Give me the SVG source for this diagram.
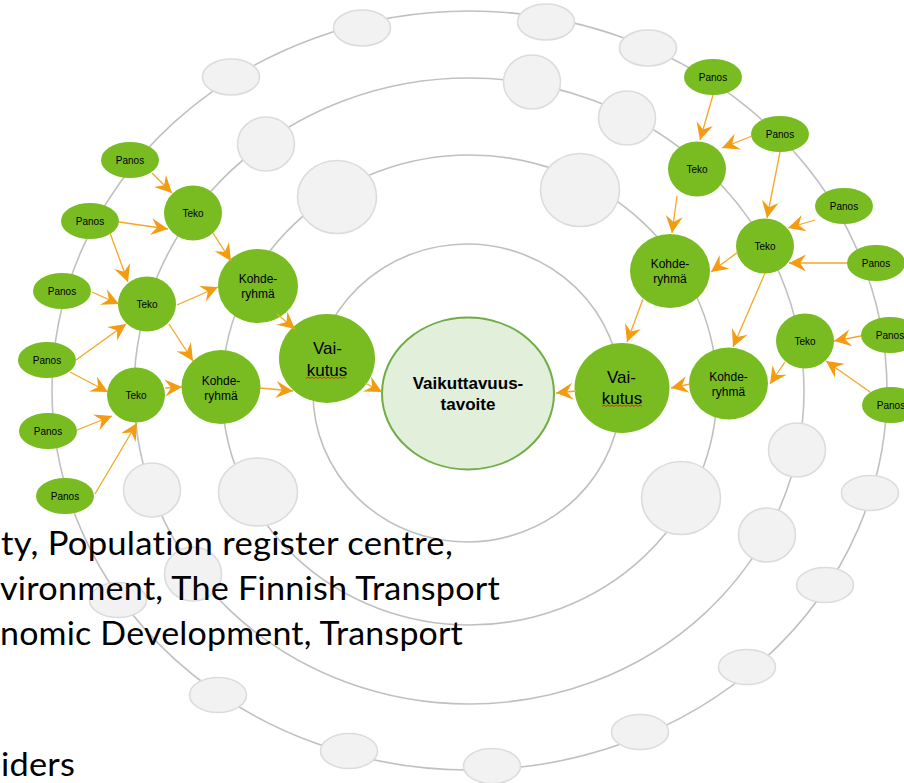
<svg xmlns="http://www.w3.org/2000/svg" width="904" height="783" viewBox="0 0 904 783">
  <defs>
    <style>
      .ring { fill: none; stroke: #c0c0c0; stroke-width: 1.6; }
      .slot { fill: #f2f2f2; stroke: #dcdcdc; stroke-width: 1.6; }
      .node { fill: #78bc22; }
      .goal { fill: #e2efda; stroke: #70ad47; stroke-width: 2; }
      .lbl { font-family: "Liberation Sans", Arial, sans-serif; fill: #000; text-anchor: middle; }
      .s10 { font-size: 10px; }
      .s12 { font-size: 12px; }
      .s17 { font-size: 17px; }
      .bold { font-size: 17px; font-weight: bold; }
      .edge { fill: none; stroke: #f5a623; stroke-width: 1.3; marker-end: url(#arr); }
      .spell { fill: none; stroke: #e02020; stroke-width: 0.9; }
      .body { font-family: Lato, "Open Sans", sans-serif; font-size: 32px; fill: #000; letter-spacing: 0.2px; font-variant-ligatures: none; font-feature-settings: "liga" 0, "clig" 0; }
    </style>
    <marker id="arr" markerUnits="userSpaceOnUse" markerWidth="22" markerHeight="20" viewBox="-19 -10 22 20" refX="0" refY="0" orient="auto">
      <path d="M0,0 L-17,-8.5 L-11,0 L-17,8.5 Z" fill="#f39c12"/>
    </marker>
  </defs>

  <rect width="904" height="783" fill="#ffffff"/>

  <!-- orbit rings -->
  <g id="rings">
    <ellipse class="ring" cx="469.5" cy="390.5" rx="417.5" ry="379.5"/>
    <ellipse class="ring" cx="469" cy="391" rx="335" ry="313"/>
    <ellipse class="ring" cx="469.5" cy="390" rx="247.5" ry="235"/>
    <ellipse class="ring" cx="467" cy="393" rx="154" ry="149"/>
  </g>

  <!-- empty slots on the rings -->
  <g id="slots">
    <ellipse class="slot" cx="231" cy="77" rx="28.5" ry="18"/>
    <ellipse class="slot" cx="362" cy="28" rx="28.5" ry="18"/>
    <ellipse class="slot" cx="546" cy="22" rx="28.5" ry="18"/>
    <ellipse class="slot" cx="648" cy="48" rx="28.5" ry="18"/>
    <ellipse class="slot" cx="870" cy="493" rx="28.5" ry="17.5"/>
    <ellipse class="slot" cx="825" cy="585" rx="28.5" ry="17.5"/>
    <ellipse class="slot" cx="747" cy="667" rx="28.5" ry="17.5"/>
    <ellipse class="slot" cx="640" cy="732" rx="28.5" ry="17.5"/>
    <ellipse class="slot" cx="492" cy="766" rx="28.5" ry="17.5"/>
    <ellipse class="slot" cx="349" cy="751" rx="28.5" ry="17.5"/>
    <ellipse class="slot" cx="218" cy="695" rx="28.5" ry="17.5"/>
    <ellipse class="slot" cx="118" cy="600" rx="28.5" ry="17.5"/>

    <ellipse class="slot" cx="266" cy="144" rx="28.5" ry="27"/>
    <ellipse class="slot" cx="532" cy="82" rx="28.5" ry="27"/>
    <ellipse class="slot" cx="627" cy="118" rx="28.5" ry="27"/>
    <ellipse class="slot" cx="797" cy="450" rx="28.5" ry="27"/>
    <ellipse class="slot" cx="767" cy="535" rx="28.5" ry="27"/>
    <ellipse class="slot" cx="193" cy="574" rx="28.5" ry="27"/>
    <ellipse class="slot" cx="152" cy="490" rx="28.5" ry="27"/>

    <ellipse class="slot" cx="337" cy="197" rx="39.5" ry="36.5"/>
    <ellipse class="slot" cx="580" cy="190" rx="39.5" ry="36.5"/>
    <ellipse class="slot" cx="681" cy="498" rx="39.5" ry="36.5"/>
    <ellipse class="slot" cx="258" cy="492" rx="39.5" ry="34"/>
  </g>

  <!-- central goal -->
  <g id="goal">
    <ellipse class="goal" cx="468" cy="393.5" rx="86" ry="76"/>
    <text class="lbl bold" x="468" y="389">Vaikuttavuus-</text>
    <text class="lbl bold" x="468" y="410">tavoite</text>
  </g>

  <!-- impact nodes -->
  <g id="vaikutus-left">
    <ellipse class="node" cx="327" cy="358.5" rx="48" ry="44.5"/>
    <text class="lbl s17" x="327.5" y="354">Vai-</text>
    <text class="lbl s17" x="327" y="376">kutus</text>
    <path class="spell" d="M306,378.5 l2,-1.5 l2,1.5 l2,-1.5 l2,1.5 l2,-1.5 l2,1.5 l2,-1.5 l2,1.5 l2,-1.5 l2,1.5 l2,-1.5 l2,1.5 l2,-1.5 l2,1.5 l2,-1.5 l2,1.5 l2,-1.5 l2,1.5 l2,-1.5 l2,1.5"/>
  </g>
  <g id="vaikutus-right">
    <ellipse class="node" cx="622" cy="388" rx="47.5" ry="45"/>
    <text class="lbl s17" x="621.5" y="383">Vai-</text>
    <text class="lbl s17" x="622" y="404">kutus</text>
    <path class="spell" d="M602,406.5 l2,-1.5 l2,1.5 l2,-1.5 l2,1.5 l2,-1.5 l2,1.5 l2,-1.5 l2,1.5 l2,-1.5 l2,1.5 l2,-1.5 l2,1.5 l2,-1.5 l2,1.5 l2,-1.5 l2,1.5 l2,-1.5 l2,1.5 l2,-1.5 l2,1.5"/>
  </g>

  <!-- target groups -->
  <g id="kohde-l1"><ellipse class="node" cx="258" cy="286" rx="40" ry="37"/><text class="lbl s12" x="258" y="283">Kohde-</text><text class="lbl s12" x="258" y="298">ryhmä</text></g>
  <g id="kohde-l2"><ellipse class="node" cx="221" cy="387" rx="39.5" ry="37"/><text class="lbl s12" x="221" y="385">Kohde-</text><text class="lbl s12" x="221" y="400">ryhmä</text></g>
  <g id="kohde-r1"><ellipse class="node" cx="670" cy="271" rx="40" ry="37"/><text class="lbl s12" x="670" y="268">Kohde-</text><text class="lbl s12" x="670" y="283">ryhmä</text></g>
  <g id="kohde-r2"><ellipse class="node" cx="728.5" cy="383.5" rx="39.5" ry="36"/><text class="lbl s12" x="728.5" y="381">Kohde-</text><text class="lbl s12" x="728.5" y="396">ryhmä</text></g>

  <!-- actions -->
  <g id="teko-l1"><ellipse class="node" cx="193" cy="213" rx="29" ry="27.5"/><text class="lbl s10" x="193" y="216.5">Teko</text></g>
  <g id="teko-l2"><ellipse class="node" cx="147" cy="304" rx="29" ry="27.5"/><text class="lbl s10" x="147" y="307.5">Teko</text></g>
  <g id="teko-l3"><ellipse class="node" cx="136" cy="395" rx="29" ry="27.5"/><text class="lbl s10" x="136" y="398.5">Teko</text></g>
  <g id="teko-r1"><ellipse class="node" cx="697" cy="169" rx="29" ry="27.5"/><text class="lbl s10" x="697" y="172.5">Teko</text></g>
  <g id="teko-r2"><ellipse class="node" cx="765" cy="246" rx="29" ry="27.5"/><text class="lbl s10" x="765" y="249.5">Teko</text></g>
  <g id="teko-r3"><ellipse class="node" cx="805" cy="341" rx="29" ry="27.5"/><text class="lbl s10" x="805" y="344.5">Teko</text></g>

  <!-- inputs -->
  <g id="panos-l1"><ellipse class="node" cx="130" cy="160" rx="29" ry="18"/><text class="lbl s10" x="130" y="163.5">Panos</text></g>
  <g id="panos-l2"><ellipse class="node" cx="90" cy="221" rx="29" ry="18"/><text class="lbl s10" x="90" y="224.5">Panos</text></g>
  <g id="panos-l3"><ellipse class="node" cx="62" cy="291" rx="29" ry="18"/><text class="lbl s10" x="62" y="294.5">Panos</text></g>
  <g id="panos-l4"><ellipse class="node" cx="47" cy="360" rx="29" ry="18"/><text class="lbl s10" x="47" y="363.5">Panos</text></g>
  <g id="panos-l5"><ellipse class="node" cx="48" cy="431" rx="29" ry="18"/><text class="lbl s10" x="48" y="434.5">Panos</text></g>
  <g id="panos-l6"><ellipse class="node" cx="65" cy="496" rx="29" ry="18"/><text class="lbl s10" x="65" y="499.5">Panos</text></g>
  <g id="panos-r1"><ellipse class="node" cx="713" cy="77" rx="29" ry="18"/><text class="lbl s10" x="713" y="80.5">Panos</text></g>
  <g id="panos-r2"><ellipse class="node" cx="780" cy="134" rx="29" ry="18"/><text class="lbl s10" x="780" y="137.5">Panos</text></g>
  <g id="panos-r3"><ellipse class="node" cx="844" cy="206" rx="29" ry="18"/><text class="lbl s10" x="844" y="209.5">Panos</text></g>
  <g id="panos-r4"><ellipse class="node" cx="876" cy="263" rx="29" ry="18"/><text class="lbl s10" x="876" y="266.5">Panos</text></g>
  <g id="panos-r5"><ellipse class="node" cx="890" cy="335" rx="29" ry="18"/><text class="lbl s10" x="890" y="338.5">Panos</text></g>
  <g id="panos-r6"><ellipse class="node" cx="891" cy="405" rx="29" ry="18"/><text class="lbl s10" x="891" y="408.5">Panos</text></g>

  <!-- connectors -->
  <g id="connectors">
    <line class="edge" x1="152" y1="173" x2="172" y2="193"/>
    <line class="edge" x1="119" y1="222" x2="168" y2="229"/>
    <line class="edge" x1="110" y1="233" x2="128" y2="282"/>
    <line class="edge" x1="92" y1="292" x2="119" y2="304"/>
    <line class="edge" x1="76" y1="360" x2="126" y2="324"/>
    <line class="edge" x1="70" y1="372" x2="108" y2="392"/>
    <line class="edge" x1="77" y1="430" x2="112" y2="416"/>
    <line class="edge" x1="95" y1="494" x2="137" y2="423"/>
    <line class="edge" x1="213" y1="233" x2="231" y2="261"/>
    <line class="edge" x1="177" y1="305" x2="218" y2="287"/>
    <line class="edge" x1="169" y1="324" x2="193" y2="361"/>
    <line class="edge" x1="165" y1="388" x2="182" y2="387"/>
    <line class="edge" x1="277" y1="314" x2="295" y2="329"/>
    <line class="edge" x1="260" y1="388" x2="293" y2="391"/>
    <line class="edge" x1="365" y1="383" x2="382" y2="392"/>
    <line class="edge" x1="713" y1="95" x2="700" y2="140"/>
    <line class="edge" x1="752" y1="136" x2="722" y2="148"/>
    <line class="edge" x1="780" y1="152" x2="767" y2="218"/>
    <line class="edge" x1="815" y1="220" x2="788" y2="228"/>
    <line class="edge" x1="847" y1="263" x2="789" y2="263"/>
    <line class="edge" x1="677" y1="196" x2="672" y2="233"/>
    <line class="edge" x1="738" y1="252" x2="711" y2="272"/>
    <line class="edge" x1="765" y1="273" x2="733" y2="347"/>
    <line class="edge" x1="861" y1="336" x2="834" y2="341"/>
    <line class="edge" x1="870" y1="392" x2="826" y2="361"/>
    <line class="edge" x1="785" y1="362" x2="770" y2="384"/>
    <line class="edge" x1="643" y1="299" x2="627" y2="342"/>
    <line class="edge" x1="690" y1="384" x2="671" y2="388"/>
    <line class="edge" x1="576" y1="391" x2="556" y2="393"/>
  </g>

  <!-- overlaid body text -->
  <g id="caption">
    <text class="body" x="1" y="555" textLength="452" lengthAdjust="spacingAndGlyphs">ty, Population register centre,</text>
    <text class="body" x="0" y="600" textLength="500" lengthAdjust="spacingAndGlyphs">vironment, The Finnish Transport</text>
    <text class="body" x="0" y="645" textLength="463" lengthAdjust="spacingAndGlyphs">nomic Development, Transport</text>
    <text class="body" x="1" y="776" textLength="74" lengthAdjust="spacingAndGlyphs">iders</text>
  </g>
</svg>
